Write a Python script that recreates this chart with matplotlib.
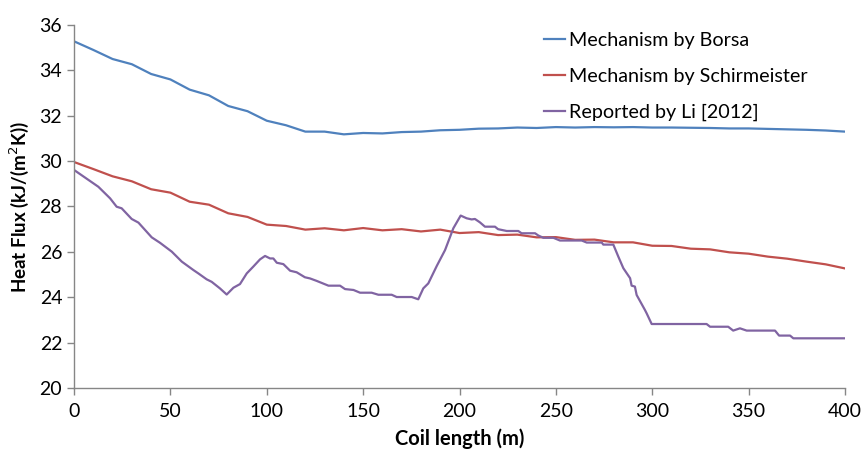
import matplotlib
matplotlib.use("Agg")
import matplotlib.pyplot as plt

# ---- data ----
x_model = list(range(0, 410, 10))
borsa = [35.28, 34.9, 34.5, 34.27, 33.84, 33.6, 33.15, 32.9, 32.43, 32.2,
         31.78, 31.58, 31.3, 31.3, 31.18, 31.24, 31.22, 31.28, 31.3, 31.36,
         31.38, 31.43, 31.44, 31.48, 31.46, 31.5, 31.48, 31.5, 31.49, 31.5,
         31.48, 31.48, 31.47, 31.46, 31.44, 31.44, 31.42, 31.4, 31.38, 31.35, 31.3]
schirmeister = [29.96, 29.65, 29.33, 29.11, 28.76, 28.61, 28.21, 28.08, 27.7, 27.54,
                27.2, 27.14, 26.98, 27.04, 26.95, 27.05, 26.95, 27.0, 26.9, 26.98,
                26.83, 26.87, 26.74, 26.76, 26.64, 26.65, 26.53, 26.54, 26.42, 26.42,
                26.27, 26.26, 26.14, 26.11, 25.98, 25.92, 25.79, 25.7, 25.57, 25.45, 25.27]

x_li = [0, 12.6, 18.7, 22.1, 24.7, 29.9, 33.4, 40.3, 44.6, 50.7, 55.9, 61.9, 64.5,
        68.8, 71.4, 75.7, 79.2, 82.7, 86.1, 89.6, 93, 96.5, 99.1, 101.7, 103.4,
        105.2, 108.6, 112.1, 115.5, 119.8, 122.4, 125.9, 132, 138, 140.6, 145,
        148.4, 154.4, 157.9, 164.8, 167.4, 175.2, 178.6, 181.2, 183.8, 188.2,
        192.5, 196.8, 200.6, 203.7, 206.3, 208, 210.6, 213.2, 218.4, 220, 224.5,
        230.5, 232.2, 239.2, 240.9, 243.5, 248.7, 252.1, 263.4, 266, 273.8, 274.6,
        279.8, 282.4, 285, 288.5, 289.3, 291, 291.9, 296.2, 297.1, 299.7, 328.2,
        330, 339.4, 342, 345.5, 349, 363.7, 365.8, 371.5, 373.2, 400]
li = [29.61, 28.87, 28.36, 27.99, 27.92, 27.45, 27.29, 26.64, 26.4, 26.01, 25.57,
      25.2, 25.05, 24.79, 24.68, 24.39, 24.12, 24.42, 24.58, 25.05, 25.35, 25.67,
      25.82, 25.71, 25.71, 25.52, 25.46, 25.17, 25.1, 24.88, 24.83, 24.72, 24.51,
      24.51, 24.36, 24.32, 24.2, 24.2, 24.11, 24.11, 24.01, 24.01, 23.91, 24.39,
      24.61, 25.38, 26.08, 27.04, 27.6, 27.48, 27.43, 27.45, 27.3, 27.11, 27.11,
      27.0, 26.92, 26.92, 26.82, 26.82, 26.72, 26.62, 26.62, 26.5, 26.5, 26.41,
      26.41, 26.32, 26.32, 25.79, 25.28, 24.84, 24.51, 24.47, 24.1, 23.44, 23.29,
      22.82, 22.82, 22.7, 22.7, 22.53, 22.63, 22.53, 22.53, 22.31, 22.31, 22.19, 22.19]

labels = ["Mechanism by Borsa", "Mechanism by Schirmeister", "Reported by Li [2012]"]
colors = ["#4F81BD", "#C0504D", "#8064A2"]
x_ticks = list(range(0, 450, 50))
y_ticks = list(range(20, 38, 2))

plt.rcParams['font.family'] = ['Lato', 'DejaVu Sans']

fig = plt.figure(figsize=(8.61, 4.51), dpi=100)
ax = fig.add_axes([0.086, 0.1397, 0.8954, 0.8049])

ax.plot(x_model, borsa, color=colors[0], lw=1.6, label=labels[0])
ax.plot(x_model, schirmeister, color=colors[1], lw=1.6, label=labels[1])
ax.plot(x_li, li, color=colors[2], lw=1.6, label=labels[2])

ax.set_xlim(0, 400)
ax.set_ylim(20, 36)
ax.set_xticks(x_ticks)
ax.set_yticks(y_ticks)
for s in ['top', 'right']:
    ax.spines[s].set_visible(False)
for s in ['left', 'bottom']:
    ax.spines[s].set_color('#868686')
    ax.spines[s].set_linewidth(1.0)
ax.tick_params(axis='both', colors='#868686', labelcolor='black', labelsize=14,
               length=5, width=1.0, direction='out')
ax.tick_params(axis='x', pad=6)

ax.set_xlabel("Coil length (m)", fontsize=14.5, fontweight='bold', labelpad=6)
ax.set_ylabel("Heat Flux (kJ/(m$^2$K))", fontsize=13.5, fontweight='bold', labelpad=6)

leg = ax.legend(loc='upper left', bbox_to_anchor=(0.586, 1.03), frameon=False,
                fontsize=14.2, handlelength=1.07, handletextpad=0.2, labelspacing=0.97)

fig.savefig("out.png", dpi=100)
